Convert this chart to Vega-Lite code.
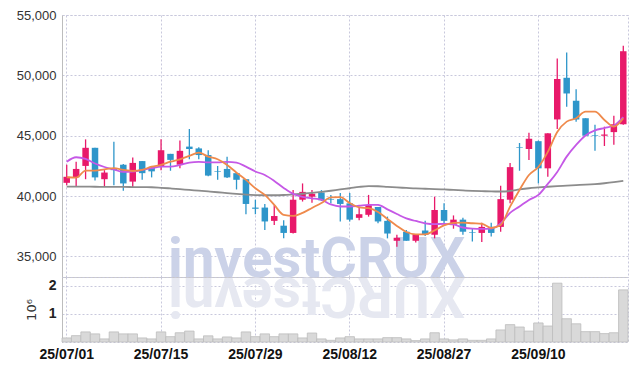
{
  "$schema": "https://vega.github.io/schema/vega-lite/v6.json",
  "background": "white",
  "padding": {"left": 15, "top": 8, "right": 6, "bottom": 5},
  "spacing": 0,
  "bounds": "flush",
  "config": {
    "view": {"stroke": "#c8c8dc", "strokeDash": [2, 2]},
    "axis": {
      "ticks": false,
      "gridColor": "#c8c8dc",
      "gridDash": [2, 2],
      "gridWidth": 1,
      "domainColor": "#c4c4c4",
      "labelFont": "Liberation Sans",
      "labelColor": "#222",
      "labelFontSize": 13
    }
  },
  "datasets": {
    "d": [
      {"d": "25/07/01", "o": 41100, "h": 42600, "l": 40900, "c": 41600, "v": 145000, "m5": 41560, "m10": 42850, "m60": 40780},
      {"d": "25/07/02", "o": 41550, "h": 42850, "l": 40800, "c": 42250, "v": 227000, "m5": 41530, "m10": 43220, "m60": 40780},
      {"d": "25/07/03", "o": 42500, "h": 44700, "l": 41400, "c": 44000, "v": 360000, "m5": 42110, "m10": 43080, "m60": 40780},
      {"d": "25/07/04", "o": 44000, "h": 44000, "l": 41300, "c": 41550, "v": 290000, "m5": 42110, "m10": 42700, "m60": 40775},
      {"d": "25/07/07", "o": 41400, "h": 42150, "l": 40750, "c": 41950, "v": 110000, "m5": 42220, "m10": 42410, "m60": 40765},
      {"d": "25/07/08", "o": 42300, "h": 44500, "l": 40900, "c": 42150, "v": 360000, "m5": 42310, "m10": 42210, "m60": 40760},
      {"d": "25/07/09", "o": 42600, "h": 42650, "l": 40450, "c": 41050, "v": 290000, "m5": 42170, "m10": 42000, "m60": 40760},
      {"d": "25/07/10", "o": 41200, "h": 43200, "l": 40750, "c": 42750, "v": 290000, "m5": 42080, "m10": 42025, "m60": 40750},
      {"d": "25/07/11", "o": 42900, "h": 42900, "l": 41350, "c": 41900, "v": 145000, "m5": 42170, "m10": 42170, "m60": 40740},
      {"d": "25/07/14", "o": 42350, "h": 42450, "l": 41550, "c": 42050, "v": 110000, "m5": 42440, "m10": 42310, "m60": 40735},
      {"d": "25/07/15", "o": 42500, "h": 44700, "l": 42150, "c": 43800, "v": 360000, "m5": 42580, "m10": 42440, "m60": 40690},
      {"d": "25/07/16", "o": 43500, "h": 43500, "l": 42100, "c": 43000, "v": 190000, "m5": 42850, "m10": 42440, "m60": 40635},
      {"d": "25/07/17", "o": 42600, "h": 44600, "l": 42300, "c": 43750, "v": 330000, "m5": 43050, "m10": 42580, "m60": 40575},
      {"d": "25/07/18", "o": 44100, "h": 45550, "l": 43050, "c": 43900, "v": 390000, "m5": 43330, "m10": 42770, "m60": 40510},
      {"d": "25/07/21", "o": 43950, "h": 44050, "l": 43050, "c": 43400, "v": 110000, "m5": 43600, "m10": 42830, "m60": 40450},
      {"d": "25/07/22", "o": 43400, "h": 43800, "l": 41650, "c": 41700, "v": 220000, "m5": 43270, "m10": 42800, "m60": 40385},
      {"d": "25/07/23", "o": 42050, "h": 42500, "l": 41350, "c": 42000, "v": 110000, "m5": 43050, "m10": 42800, "m60": 40320},
      {"d": "25/07/24", "o": 42250, "h": 43250, "l": 41500, "c": 41550, "v": 180000, "m5": 42580, "m10": 42830, "m60": 40245},
      {"d": "25/07/25", "o": 41900, "h": 41900, "l": 40550, "c": 41350, "v": 145000, "m5": 41940, "m10": 42770, "m60": 40180},
      {"d": "25/07/28", "o": 41400, "h": 41400, "l": 38500, "c": 39350, "v": 360000, "m5": 41340, "m10": 42440, "m60": 40115},
      {"d": "25/07/29", "o": 39050, "h": 39700, "l": 38500, "c": 38950, "v": 190000, "m5": 40650, "m10": 42040, "m60": 40080},
      {"d": "25/07/30", "o": 39050, "h": 39350, "l": 37200, "c": 37900, "v": 290000, "m5": 40100, "m10": 41750, "m60": 40070},
      {"d": "25/07/31", "o": 37950, "h": 39250, "l": 37600, "c": 38350, "v": 190000, "m5": 39270, "m10": 41260, "m60": 40070},
      {"d": "25/08/01", "o": 37550, "h": 38000, "l": 36500, "c": 36950, "v": 290000, "m5": 38440, "m10": 40680, "m60": 40090},
      {"d": "25/08/04", "o": 36950, "h": 40500, "l": 36900, "c": 39700, "v": 290000, "m5": 38360, "m10": 40180, "m60": 40140},
      {"d": "25/08/05", "o": 39700, "h": 41050, "l": 39550, "c": 40350, "v": 145000, "m5": 38610, "m10": 39930, "m60": 40195},
      {"d": "25/08/06", "o": 39950, "h": 40500, "l": 39450, "c": 40200, "v": 320000, "m5": 39020, "m10": 39820, "m60": 40260},
      {"d": "25/08/07", "o": 40300, "h": 40500, "l": 39600, "c": 39650, "v": 110000, "m5": 39430, "m10": 39700, "m60": 40345},
      {"d": "25/08/08", "o": 39750, "h": 40100, "l": 39400, "c": 39700, "v": 60000, "m5": 39890, "m10": 39310, "m60": 40445},
      {"d": "25/08/11", "o": 39750, "h": 40250, "l": 37900, "c": 39350, "v": 145000, "m5": 39910, "m10": 39140, "m60": 40550},
      {"d": "25/08/12", "o": 39400, "h": 40250, "l": 37900, "c": 38050, "v": 190000, "m5": 39430, "m10": 39140, "m60": 40650},
      {"d": "25/08/13", "o": 38200, "h": 39100, "l": 38000, "c": 38500, "v": 110000, "m5": 39060, "m10": 39200, "m60": 40760},
      {"d": "25/08/14", "o": 38450, "h": 40100, "l": 38300, "c": 39250, "v": 110000, "m5": 39000, "m10": 39270, "m60": 40825},
      {"d": "25/08/18", "o": 39100, "h": 39100, "l": 37750, "c": 37900, "v": 110000, "m5": 38690, "m10": 39270, "m60": 40815},
      {"d": "25/08/19", "o": 37950, "h": 38300, "l": 36500, "c": 36900, "v": 155000, "m5": 38110, "m10": 38900, "m60": 40760},
      {"d": "25/08/20", "o": 36300, "h": 36800, "l": 35800, "c": 36550, "v": 155000, "m5": 37530, "m10": 38520, "m60": 40715},
      {"d": "25/08/21", "o": 37050, "h": 37200, "l": 36300, "c": 36300, "v": 110000, "m5": 37030, "m10": 38150, "m60": 40675},
      {"d": "25/08/22", "o": 36300, "h": 36850, "l": 36150, "c": 36850, "v": 50000, "m5": 36830, "m10": 37940, "m60": 40635},
      {"d": "25/08/25", "o": 37150, "h": 37950, "l": 36700, "c": 36800, "v": 110000, "m5": 36830, "m10": 37750, "m60": 40610},
      {"d": "25/08/26", "o": 36800, "h": 39950, "l": 36500, "c": 38850, "v": 330000, "m5": 37160, "m10": 37680, "m60": 40585},
      {"d": "25/08/27", "o": 38850, "h": 39400, "l": 37650, "c": 37950, "v": 110000, "m5": 37570, "m10": 37700, "m60": 40550},
      {"d": "25/08/28", "o": 37600, "h": 38400, "l": 37300, "c": 38050, "v": 75000, "m5": 37780, "m10": 37650, "m60": 40510},
      {"d": "25/08/29", "o": 38050, "h": 38200, "l": 36800, "c": 37050, "v": 110000, "m5": 37800, "m10": 37400, "m60": 40470},
      {"d": "25/09/01", "o": 37000, "h": 37350, "l": 36250, "c": 36950, "v": 60000, "m5": 37750, "m10": 37300, "m60": 40435},
      {"d": "25/09/02", "o": 36950, "h": 37800, "l": 36200, "c": 37450, "v": 60000, "m5": 37710, "m10": 37280, "m60": 40410},
      {"d": "25/09/03", "o": 37450, "h": 37800, "l": 36650, "c": 36950, "v": 110000, "m5": 37360, "m10": 37300, "m60": 40385},
      {"d": "25/09/04", "o": 37450, "h": 40850, "l": 37050, "c": 39750, "v": 430000, "m5": 37610, "m10": 37740, "m60": 40380},
      {"d": "25/09/05", "o": 39700, "h": 42750, "l": 39400, "c": 42400, "v": 620000, "m5": 39130, "m10": 38610, "m60": 40425},
      {"d": "25/09/08", "o": 44050, "h": 44400, "l": 42100, "c": 44000, "v": 535000, "m5": 40510, "m10": 39140, "m60": 40550},
      {"d": "25/09/09", "o": 43900, "h": 45250, "l": 43000, "c": 44750, "v": 390000, "m5": 41750, "m10": 39680, "m60": 40650},
      {"d": "25/09/10", "o": 44550, "h": 44600, "l": 41050, "c": 42300, "v": 680000, "m5": 42410, "m10": 40100, "m60": 40715},
      {"d": "25/09/11", "o": 42300, "h": 45200, "l": 41600, "c": 45200, "v": 570000, "m5": 43660, "m10": 41010, "m60": 40775},
      {"d": "25/09/12", "o": 46350, "h": 51400, "l": 45550, "c": 49700, "v": 2100000, "m5": 45310, "m10": 42000, "m60": 40825},
      {"d": "25/09/15", "o": 49800, "h": 51900, "l": 47400, "c": 48500, "v": 830000, "m5": 46170, "m10": 43270, "m60": 40865},
      {"d": "25/09/16", "o": 47900, "h": 48850, "l": 46150, "c": 46350, "v": 650000, "m5": 46450, "m10": 44240, "m60": 40910},
      {"d": "25/09/17", "o": 46450, "h": 46450, "l": 45000, "c": 45000, "v": 370000, "m5": 46990, "m10": 45020, "m60": 40950},
      {"d": "25/09/18", "o": 45050, "h": 45900, "l": 43750, "c": 45000, "v": 370000, "m5": 46990, "m10": 45440, "m60": 41000},
      {"d": "25/09/19", "o": 45000, "h": 45750, "l": 44150, "c": 45100, "v": 300000, "m5": 46310, "m10": 45640, "m60": 41065},
      {"d": "25/09/22", "o": 45300, "h": 46650, "l": 44250, "c": 45950, "v": 330000, "m5": 45750, "m10": 45850, "m60": 41150},
      {"d": "25/09/23", "o": 45950, "h": 52450, "l": 45900, "c": 52000, "v": 1860000, "m5": 46450, "m10": 46550, "m60": 41255}
    ]
  },
  "data": {"name": "d"},
  "vconcat": [
    {
      "width": 566,
      "height": 262,
      "layer": [
        {
          "data": {"values": [{}]},
          "mark": {"type": "text", "font": "Roboto", "fontSize": 56, "fontWeight": "bold", "color": "#cbd2e8", "align": "center", "baseline": "alphabetic"},
          "encoding": {
            "x": {"datum": "25/08/06", "type": "ordinal", "bandPosition": 1, "scale": {"paddingInner": 0, "paddingOuter": 0},
              "axis": {"title": null, "labels": false, "bandPosition": 0.5, "grid": true, "domain": true, "domainColor": "#c8c8c8",
                "values": ["25/07/01", "25/07/15", "25/07/29", "25/08/12", "25/08/27", "25/09/10"]}},
            "y": {"datum": 33300, "type": "quantitative", "scale": {"domain": [33300, 55000], "nice": false, "zero": false},
              "axis": {"title": null, "values": [35000, 37500, 40000, 42500, 45000, 47500, 50000, 52500, 55000], "format": ",d", "labelPadding": 6, "labelColor": "#333", "domain": true, "domainColor": "#bdbdbd", "grid": true}},
            "text": {"value": "investCRUX"}
          }
        },
        {
          "mark": {"type": "rule", "strokeWidth": 1.3},
          "encoding": {
            "x": {"field": "d", "type": "ordinal"},
            "y": {"field": "l", "type": "quantitative"},
            "y2": {"field": "h"},
            "color": {"condition": {"test": "datum.c > datum.o", "value": "#E8196A"}, "value": "#2E96CA"}
          }
        },
        {
          "mark": {"type": "bar", "size": 6.5},
          "encoding": {
            "x": {"field": "d", "type": "ordinal"},
            "y": {"field": "o", "type": "quantitative"},
            "y2": {"field": "c"},
            "color": {"condition": {"test": "datum.c > datum.o", "value": "#E8196A"}, "value": "#2E96CA"}
          }
        },
        {
          "mark": {"type": "line", "color": "#8c8c8c", "strokeWidth": 1.8, "interpolate": "monotone"},
          "encoding": {"x": {"field": "d", "type": "ordinal"}, "y": {"field": "m60", "type": "quantitative"}}
        },
        {
          "mark": {"type": "line", "color": "#c558e6", "strokeWidth": 1.8, "interpolate": "monotone"},
          "encoding": {"x": {"field": "d", "type": "ordinal"}, "y": {"field": "m10", "type": "quantitative"}}
        },
        {
          "mark": {"type": "line", "color": "#ef8a4c", "strokeWidth": 1.8, "interpolate": "monotone"},
          "encoding": {"x": {"field": "d", "type": "ordinal"}, "y": {"field": "m5", "type": "quantitative"}}
        }
      ]
    },
    {
      "width": 566,
      "height": 65,
      "layer": [
        {
          "data": {"values": [{}]},
          "mark": {"type": "text", "font": "Roboto", "fontSize": 56, "fontWeight": "bold", "color": "#e6e8f1", "align": "center", "baseline": "alphabetic", "angle": 180},
          "encoding": {
            "x": {"datum": "25/08/06", "type": "ordinal", "bandPosition": 1, "scale": {"paddingInner": 0, "paddingOuter": 0},
              "axis": {"title": null, "bandPosition": 0.5, "grid": true, "domain": false, "labelAngle": 0, "labelFontWeight": "bold", "labelFontSize": 14, "labelColor": "#111", "labelPadding": 5,
                "values": ["25/07/01", "25/07/15", "25/07/29", "25/08/12", "25/08/27", "25/09/10"]}},
            "y": {"datum": 2290000, "type": "quantitative", "scale": {"domain": [0, 2320000], "nice": false},
              "axis": {"values": [1000000, 2000000], "labelExpr": "datum.value / 1000000", "title": "10⁶", "titleFont": "DejaVu Sans", "titleFontWeight": "normal", "titleFontSize": 13, "titleColor": "#333", "titlePadding": 10, "labelPadding": 6, "labelFontSize": 14, "labelFontWeight": "bold", "domain": true, "domainColor": "#bdbdbd", "grid": true}},
            "text": {"value": "XURCtsevni"}
          }
        },
        {
          "mark": {"type": "bar", "fill": "#d9d9d9", "stroke": "#bcbcbc", "strokeWidth": 0.8},
          "encoding": {
            "x": {"field": "d", "type": "ordinal"},
            "y": {"field": "v", "type": "quantitative"}
          }
        }
      ]
    }
  ]
}
